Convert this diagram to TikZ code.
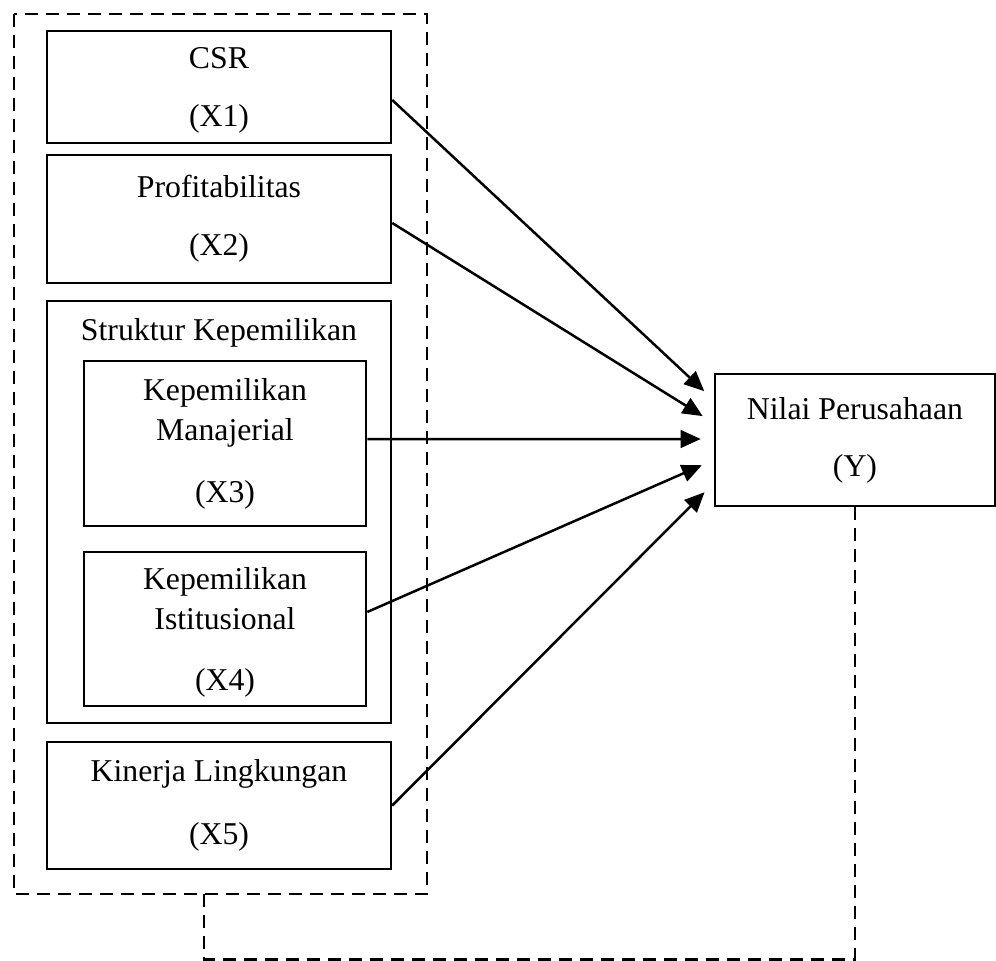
\documentclass[tikz,border=0pt]{standalone}
\usepackage{fontspec}
\setmainfont{Liberation Serif}
\usetikzlibrary{arrows.meta}

\tikzset{
  box/.style={draw, line width=1pt, align=center, inner sep=0pt},
  grp/.style={draw, dash pattern=on 5.2pt off 3.2pt, line width=1pt},
  arr/.style={-{Triangle[length=8pt,width=7pt]}, line width=1pt, shorten >=5.2pt},
}

\begin{document}
\begin{tikzpicture}[x=0.4pt,y=-0.4pt,font=\fontsize{12.7}{16}\selectfont]
    \useasboundingbox (0,0) rectangle (996,961);

    % Independent variables
    \node[box, minimum width=137.6pt, minimum height=44.8pt] (csr) at (219,87) {\strut CSR\\[7.2pt](X1)};
    \node[box, minimum width=137.6pt, minimum height=51.2pt] (profit) at (219,219) {Profitabilitas\\[7.2pt](X2)};

    % Ownership structure
    \node[box, minimum width=137.6pt, minimum height=168.8pt] (struktur) at (219,512) {};
    \node[anchor=base] (strukturtitle) at (219,340) {Struktur Kepemilikan};
    \node[box, minimum width=112.8pt, minimum height=66pt] (manajerial) at (225,443.5) {Kepemilikan\\Manajerial\\[8.8pt](X3)};
    \node[box, minimum width=112.8pt, minimum height=61.6pt] (istitusional) at (225,629) {\strut Kepemilikan\\Istitusional\\[8.4pt](X4)};

    \node[box, minimum width=137.6pt, minimum height=50.8pt] (kinerja) at (219,805.5) {Kinerja Lingkungan\\[9.2pt](X5)};

    % Dependent variable
    \node[box, minimum width=112pt, minimum height=52.8pt] (nilai) at (855,440) {Nilai Perusahaan\\[6.8pt](Y)};

    % Simultaneous group
    \draw[grp] (14,14) rectangle (427,894);
    \coordinate (grpout) at (204,894);

    % Partial effects
    \draw[arr] ([yshift=-5.2pt]csr.east) -- ([yshift=16pt]nilai.west);
    \draw[arr] ([yshift=-1.6pt]profit.east) -- ([yshift=6.8pt]nilai.west);
    \draw[arr] ([yshift=1.8pt]manajerial.east) -- ([yshift=0.4pt]nilai.west);
    \draw[arr] ([yshift=6.8pt]istitusional.east) -- ([yshift=-8pt]nilai.west);
    \draw[arr] (kinerja.east) -- ([yshift=-17.2pt]nilai.west);

    % Simultaneous effect
    \draw[grp] (nilai.south) -- ++(0,452) -| (grpout);
\end{tikzpicture}
\end{document}
